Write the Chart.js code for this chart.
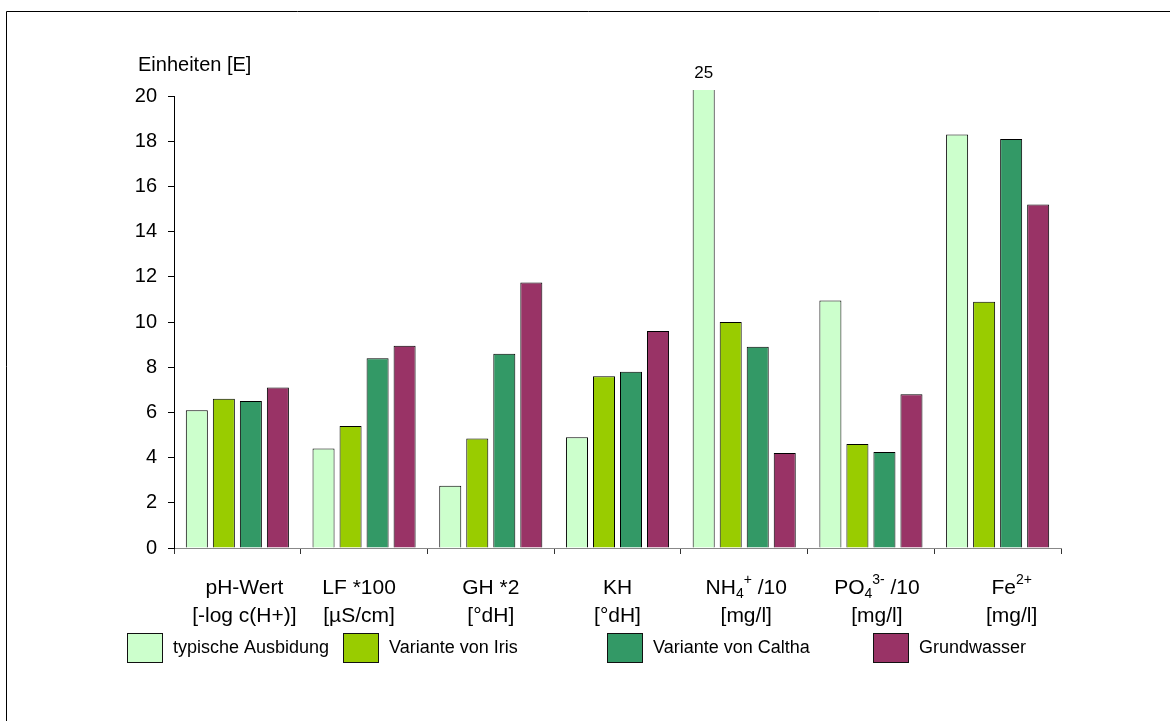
<!DOCTYPE html>
<html>
<head>
<meta charset="utf-8">
<script src="https://cdn.jsdelivr.net/npm/chart.js@4.4.1/dist/chart.umd.min.js"></script>
<style>
  html, body { margin: 0; padding: 0; background: #fff; overflow: hidden; }
</style>
</head>
<body>
<canvas id="myChart" width="1170" height="721"></canvas>
<script>
// category labels, one entry per line ( _x = subscript, ^x = superscript )
const categories = [
    ['pH-Wert', '[-log c(H+)]'],
    ['LF *100', '[µS/cm]'],
    ['GH *2', '[°dH]'],
    ['KH', '[°dH]'],
    ['NH_4^+ /10', '[mg/l]'],
    ['PO_4^3- /10', '[mg/l]'],
    ['Fe^2+', '[mg/l]']
]
const seriesNames = ['typische Ausbidung', 'Variante von Iris', 'Variante von Caltha', 'Grundwasser']
const typisch = [6.1, 4.4, 2.75, 4.9, 25, 10.95, 18.3]
const iris = [6.6, 5.4, 4.85, 7.6, 10.0, 4.6, 10.9]
const caltha = [6.5, 8.4, 8.6, 7.8, 8.9, 4.25, 18.1]
const grundwasser = [7.1, 8.95, 11.75, 9.6, 4.2, 6.8, 15.2]
const yMin = 0
const yMax = 20
const yLabelStep = 2
const yTitle = 'Einheiten [E]'

const colors = ['#CCFFCC', '#99CC00', '#339966', '#993366']
const FONT = "'Liberation Sans', Arial, sans-serif"

// outer frame (only top + left edges are visible in the picture)
const framePlugin = {
    id: 'frame',
    beforeDraw(chart) {
        const ctx = chart.ctx
        ctx.save()
        ctx.strokeStyle = '#000'
        ctx.lineWidth = 1
        ctx.beginPath()
        ctx.moveTo(6.5, chart.height)
        ctx.lineTo(6.5, 11.5)
        ctx.lineTo(chart.width, 11.5)
        ctx.stroke()
        ctx.restore()
    }
}

// y axis caption above the axis
const yTitlePlugin = {
    id: 'yTitle',
    afterDraw(chart) {
        const ctx = chart.ctx
        ctx.save()
        ctx.font = '20px ' + FONT
        ctx.fillStyle = '#000'
        ctx.textAlign = 'left'
        ctx.textBaseline = 'middle'
        ctx.fillText(yTitle, chart.chartArea.left - 36, chart.chartArea.top - 31)
        ctx.restore()
    }
}

// split "NH_4^+ /10" into normal / sub / sup runs
function parseRich(str) {
    const parts = []
    const re = /([_^])([^_^ ]+)/g
    let last = 0, m
    while ((m = re.exec(str)) !== null) {
        if (m.index > last) parts.push({ t: str.slice(last, m.index), k: 'n' })
        parts.push({ t: m[2], k: m[1] === '_' ? 'sub' : 'sup' })
        last = re.lastIndex
    }
    if (last < str.length) parts.push({ t: str.slice(last), k: 'n' })
    return parts
}

function drawRich(ctx, str, cx, cy) {
    const parts = parseRich(str)
    const fontFor = k => (k === 'n' ? '21px ' : '14px ') + FONT
    let total = 0
    parts.forEach(p => {
        ctx.font = fontFor(p.k)
        p.w = ctx.measureText(p.t).width
        total += p.w
    })
    let x = cx - total / 2
    parts.forEach(p => {
        ctx.font = fontFor(p.k)
        let dy = 0
        if (p.k === 'sub') dy = 6
        if (p.k === 'sup') dy = -8
        ctx.fillText(p.t, x, cy + dy)
        x += p.w
    })
}

// x category labels (two lines, with sub/superscripts)
const xLabelPlugin = {
    id: 'xLabels',
    afterDraw(chart, args, opts) {
        const ctx = chart.ctx
        const xs = chart.scales.x
        const bottom = chart.chartArea.bottom
        ctx.save()
        ctx.fillStyle = '#000'
        ctx.textAlign = 'left'
        ctx.textBaseline = 'middle'
        categories.forEach((lines, i) => {
            const cx = xs.getPixelForValue(i) + (opts.shift[i] || 0)
            lines.forEach((line, j) => {
                drawRich(ctx, line, cx, bottom + 40 + j * 28)
            })
        })
        ctx.restore()
    }
}

// values that run past the top of the axis get their number printed
const overflowPlugin = {
    id: 'overflow',
    afterDatasetsDraw(chart) {
        const ctx = chart.ctx
        ctx.save()
        ctx.font = '17px ' + FONT
        ctx.fillStyle = '#000'
        ctx.textAlign = 'center'
        ctx.textBaseline = 'middle'
        chart.data.datasets.forEach((ds, di) => {
            const meta = chart.getDatasetMeta(di)
            ds.data.forEach((v, i) => {
                if (v > yMax) {
                    ctx.fillText(String(v), meta.data[i].x, chart.chartArea.top - 23)
                }
            })
        })
        ctx.restore()
    }
}

// legend row under the chart
const legendPlugin = {
    id: 'customLegend',
    afterDraw(chart, args, opts) {
        const ctx = chart.ctx
        ctx.save()
        ctx.font = '18px ' + FONT
        ctx.textAlign = 'left'
        ctx.textBaseline = 'middle'
        chart.data.datasets.forEach((ds, i) => {
            const x = opts.xs[i]
            const y = opts.y
            ctx.fillStyle = ds.backgroundColor
            ctx.fillRect(x, y, 36, 30)
            ctx.strokeStyle = '#111'
            ctx.lineWidth = 1
            ctx.strokeRect(x + 0.5, y + 0.5, 35, 29)
            ctx.fillStyle = '#000'
            ctx.fillText(ds.label, x + 46, y + 15)
        })
        ctx.restore()
    }
}

const seriesData = [typisch, iris, caltha, grundwasser]

const ctx = document.getElementById('myChart').getContext('2d')

const myChart = new Chart(ctx, {
    type: 'bar',
    data: {
        labels: categories.map(c => c.join(' ')),
        datasets: seriesData.map((d, i) => ({
            label: seriesNames[i],
            data: d,
            backgroundColor: colors[i],
            borderColor: '#000',
            borderWidth: 1,
            borderSkipped: 'bottom',
            categoryPercentage: 0.853,
            barPercentage: 0.815,
            clip: { left: false, top: 6, right: false, bottom: false }
        }))
    },
    options: {
        responsive: false,
        animation: false,
        events: [],
        layout: {
            padding: { left: 0, top: 96, right: 109, bottom: 163 }
        },
        plugins: {
            legend: { display: false },
            tooltip: { enabled: false },
            customLegend: { xs: [127, 343, 607, 873], y: 633 },
            xLabels: { shift: [7, -5, 0, 0, 2, 6, 14] }
        },
        scales: {
            x: {
                offset: true,
                grid: {
                    offset: true,
                    drawOnChartArea: false,
                    tickLength: 6,
                    color: '#333'
                },
                border: { color: '#888', width: 1 },
                ticks: { display: false },
                afterFit(scale) { scale.height = 10 }
            },
            y: {
                min: yMin,
                max: yMax,
                grid: {
                    drawOnChartArea: false,
                    tickLength: 6,
                    color: '#000'
                },
                border: { color: '#000', width: 1 },
                ticks: {
                    stepSize: 1,
                    padding: 11,
                    color: '#000',
                    font: { family: FONT, size: 20 },
                    callback: v => (v % yLabelStep === 0 ? v : '')
                },
                afterFit(scale) { scale.width = 174 }
            }
        }
    },
    plugins: [framePlugin, yTitlePlugin, xLabelPlugin, overflowPlugin, legendPlugin]
})
</script>
</body>
</html>
